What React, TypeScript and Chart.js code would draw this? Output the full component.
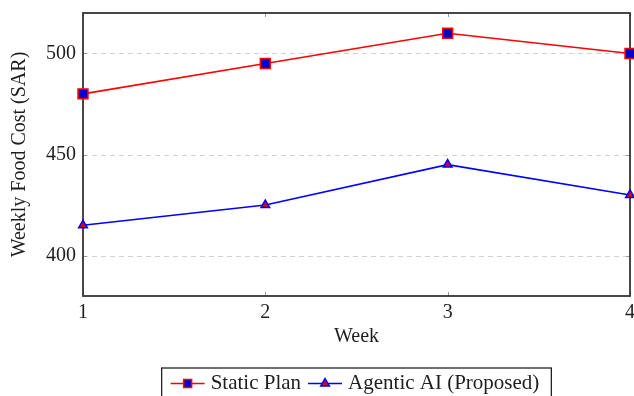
import React, { useEffect, useRef } from "react";
import { Chart, registerables } from "chart.js";

Chart.register(...registerables);

const weeks = [1, 2, 3, 4];
const staticPlan = [480, 495, 510, 500];
const agenticAI = [415, 425, 445, 430];
const yTickValues = [400, 450, 500];
const xTickValues = [1, 2, 3, 4];
const seriesLabels = ["Static Plan", "Agentic AI (Proposed)"];
const xTitle = "Week";
const yTitle = "Weekly Food Cost (SAR)";

const FONT_FAMILY = '"Liberation Serif", "Times New Roman", serif';
const FONT_SIZE = 20;
const TEXT = "#1e1e1e";
const RED = "#ff0000";
const BLUE = "#0000ff";
const SQUARE_FILL = "#0000c8";
const TRI_FILL = "#e00000";

function drawSquare(ctx: CanvasRenderingContext2D, x: number, y: number, s: number) {
  ctx.fillStyle = SQUARE_FILL;
  ctx.strokeStyle = RED;
  ctx.lineWidth = 1.5;
  ctx.beginPath();
  ctx.rect(x - s / 2, y - s / 2, s, s);
  ctx.fill();
  ctx.stroke();
}

function drawTriangle(ctx: CanvasRenderingContext2D, x: number, y: number, r: number) {
  ctx.fillStyle = TRI_FILL;
  ctx.strokeStyle = BLUE;
  ctx.lineWidth = 1.5;
  ctx.beginPath();
  for (let k = 0; k < 3; k++) {
    const ang = (k * 2 * Math.PI) / 3;
    const px = x + Math.sin(ang) * r;
    const py = y - Math.cos(ang) * r;
    if (k === 0) ctx.moveTo(px, py);
    else ctx.lineTo(px, py);
  }
  ctx.closePath();
  ctx.fill();
  ctx.stroke();
}

function zeroPadding(s: any) {
  s.paddingLeft = 0;
  s.paddingRight = 0;
  s.paddingTop = 0;
  s.paddingBottom = 0;
}

export default function App() {
  const ref = useRef<HTMLCanvasElement>(null);

  useEffect(() => {
    const canvas = ref.current;
    if (!canvas) return;

    const framePlugin = {
      id: "pgfFrame",
      beforeDatasetsDraw(chart: any) {
        const { ctx, chartArea: a, scales } = chart;
        const ys = scales.y;
        const xs = scales.x;
        ctx.save();
        ctx.strokeStyle = "#d2d2d2";
        ctx.lineWidth = 1;
        ctx.setLineDash([5, 4]);
        for (const v of yTickValues) {
          const py = Math.round(ys.getPixelForValue(v)) + 0.5;
          ctx.beginPath();
          ctx.moveTo(a.left, py);
          ctx.lineTo(a.right, py);
          ctx.stroke();
        }
        ctx.setLineDash([]);
        ctx.strokeStyle = "#9a9a9a";
        const tl = 4;
        for (const v of xTickValues) {
          const px = Math.round(xs.getPixelForValue(v)) + 0.5;
          ctx.beginPath();
          ctx.moveTo(px, a.top);
          ctx.lineTo(px, a.top + tl);
          ctx.moveTo(px, a.bottom);
          ctx.lineTo(px, a.bottom - tl);
          ctx.stroke();
        }
        for (const v of yTickValues) {
          const py = Math.round(ys.getPixelForValue(v)) + 0.5;
          ctx.beginPath();
          ctx.moveTo(a.left, py);
          ctx.lineTo(a.left + tl, py);
          ctx.moveTo(a.right, py);
          ctx.lineTo(a.right - tl, py);
          ctx.stroke();
        }
        ctx.strokeStyle = "#333333";
        ctx.lineWidth = 1.8;
        ctx.strokeRect(a.left, a.top, a.right - a.left, a.bottom - a.top);
        ctx.restore();
      },
    };

    const legendPlugin = {
      id: "pgfLegend",
      afterDraw(chart: any) {
        const { ctx, chartArea: a } = chart;
        ctx.save();
        ctx.font = `${FONT_SIZE + 1}px ${FONT_FAMILY}`;
        const w1 = ctx.measureText(seriesLabels[0]).width;
        const w2 = ctx.measureText(seriesLabels[1]).width;
        const padL = 9;
        const padR = 12;
        const lineLen = 34;
        const gap = 6;
        const gapBetween = 7;
        const total = padL + lineLen + gap + w1 + gapBetween + lineLen + gap + w2 + padR;
        const cx = (a.left + a.right) / 2;
        const left = cx - total / 2;
        const top = a.bottom + 72;
        const h = 30;
        const midY = top + 15.5;

        ctx.strokeStyle = "#222";
        ctx.lineWidth = 1.3;
        ctx.strokeRect(left, top, total, h);

        let x = left + padL;
        ctx.strokeStyle = RED;
        ctx.lineWidth = 1.5;
        ctx.beginPath();
        ctx.moveTo(x, midY);
        ctx.lineTo(x + lineLen, midY);
        ctx.stroke();
        drawSquare(ctx, x + lineLen / 2, midY, 8);
        x += lineLen + gap;
        ctx.fillStyle = TEXT;
        ctx.textBaseline = "middle";
        ctx.textAlign = "left";
        ctx.fillText(seriesLabels[0], x, midY);
        x += w1 + gapBetween;
        ctx.strokeStyle = BLUE;
        ctx.lineWidth = 1.5;
        ctx.beginPath();
        ctx.moveTo(x, midY);
        ctx.lineTo(x + lineLen, midY);
        ctx.stroke();
        drawTriangle(ctx, x + lineLen / 2, midY, 5);
        x += lineLen + gap;
        ctx.fillStyle = TEXT;
        ctx.fillText(seriesLabels[1], x, midY);
        ctx.restore();
      },
    };

    const font = { family: FONT_FAMILY, size: FONT_SIZE };

    const chart = new Chart(canvas, {
      type: "line",
      data: {
        datasets: [
          {
            label: seriesLabels[0],
            data: weeks.map((w, i) => ({ x: w, y: staticPlan[i] })),
            borderColor: RED,
            borderWidth: 1.6,
            pointStyle: "rect",
            pointRadius: 7,
            pointHoverRadius: 7,
            pointBackgroundColor: SQUARE_FILL,
            pointBorderColor: RED,
            pointBorderWidth: 1.5,
            fill: false,
            tension: 0,
            clip: false,
          },
          {
            label: seriesLabels[1],
            data: weeks.map((w, i) => ({ x: w, y: agenticAI[i] })),
            borderColor: BLUE,
            borderWidth: 1.6,
            pointStyle: "triangle",
            pointRadius: 5,
            pointHoverRadius: 5,
            pointBackgroundColor: TRI_FILL,
            pointBorderColor: BLUE,
            pointBorderWidth: 1.5,
            fill: false,
            tension: 0,
            clip: false,
          },
        ],
      } as any,
      options: {
        responsive: false,
        animation: false,
        events: [],
        layout: {
          autoPadding: false,
          padding: { top: 13, right: 4, left: 0, bottom: 0 },
        },
        plugins: {
          legend: { display: false },
          tooltip: { enabled: false },
        },
        scales: {
          x: {
            type: "linear",
            position: "bottom",
            min: 1,
            max: 4,
            afterBuildTicks: (s: any) => {
              s.ticks = xTickValues.map((v) => ({ value: v }));
            },
            afterFit: (s: any) => {
              s.height = 100;
              zeroPadding(s);
            },
            grid: { display: false, drawTicks: false },
            border: { display: false },
            ticks: {
              font,
              color: TEXT,
              padding: 5,
              maxRotation: 0,
              autoSkip: false,
              callback: (v: any) => String(v),
            },
            title: {
              display: true,
              text: xTitle,
              font,
              color: TEXT,
              padding: { top: 0, bottom: 47 },
            },
          },
          y: {
            type: "linear",
            position: "left",
            min: 380,
            max: 520,
            afterBuildTicks: (s: any) => {
              s.ticks = yTickValues.map((v) => ({ value: v }));
            },
            afterFit: (s: any) => {
              s.width = 83;
              zeroPadding(s);
            },
            grid: { display: false, drawTicks: false },
            border: { display: false },
            ticks: {
              font,
              color: TEXT,
              padding: 7,
              callback: (v: any) => String(v),
            },
            title: {
              display: true,
              text: yTitle,
              font,
              color: TEXT,
              padding: { top: 8, bottom: 0 },
            },
          },
        },
      } as any,
      plugins: [framePlugin, legendPlugin],
    });

    return () => chart.destroy();
  }, []);

  return (
    <div style={{ position: "absolute", left: 0, top: 0, width: 634, height: 396, overflow: "hidden", background: "#fff" }}>
      <canvas ref={ref} width={634} height={396} style={{ display: "block" }} />
    </div>
  );
}
